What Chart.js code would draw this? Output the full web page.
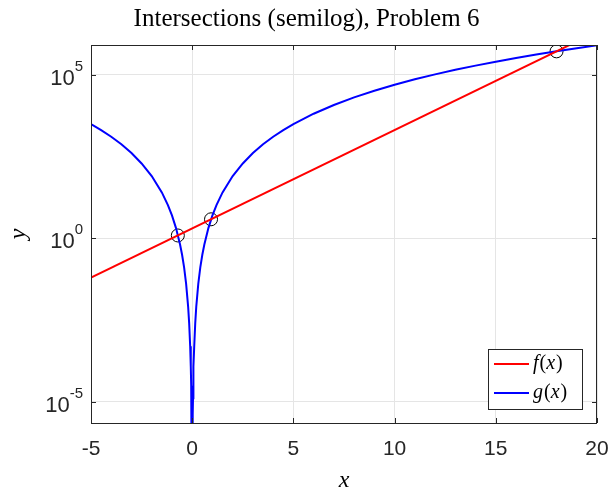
<!DOCTYPE html>
<html>
<head>
<meta charset="utf-8">
<script src="https://cdn.jsdelivr.net/npm/chart.js@4.4.1/dist/chart.umd.min.js"></script>
<style>
  html, body { margin: 0; padding: 0; background: #fff; overflow: hidden; }
  #wrap { width: 613px; height: 495px; position: relative; }
</style>
</head>
<body>
<div id="wrap"><canvas id="chart"></canvas></div>
<script>
// values
const gX = [-5, -4.5, -4, -3.5, -3, -2.5, -2, -1.5, -1.2, -1, -0.8, -0.6, -0.5, -0.4, -0.3, -0.2, -0.15, -0.1, -0.07, -0.05, -0.04, -0.03, -0.02, -0.01,
            0.01, 0.02, 0.03, 0.04, 0.05, 0.07, 0.1, 0.15, 0.2, 0.3, 0.4, 0.5, 0.6, 0.8, 1, 1.2, 1.5, 2, 2.5, 3, 3.5, 4, 4.5, 5,
            6, 7, 8, 9, 10, 11, 12, 13, 14, 15, 16, 17, 18, 19, 20];
const gY = [3125, 2050, 1280, 750, 405, 195, 80, 25.3, 10.4, 5, 2.05, 0.648, 0.3125, 0.128, 0.0405, 0.008, 0.00253, 5e-4, 1.2e-4, 3.1e-5, 1.28e-5, 4e-6, 8e-7, 5e-8,
            5e-8, 8e-7, 4e-6, 1.28e-5, 3.1e-5, 1.2e-4, 5e-4, 0.00253, 0.008, 0.0405, 0.128, 0.3125, 0.648, 2.05, 5, 10.4, 25.3, 80, 195, 405, 750, 1280, 2050, 3125,
            6480, 12000, 20480, 32800, 50000, 73200, 103700, 142800, 192000, 253000, 328000, 418000, 525000, 652000, 800000];
const fX = [-5, 20];
const fY = [0.0625, 2097152];
const hitX = [-0.71, 0.93, 18.0];
const hitY = [1.22, 3.81, 524500];
const xTicks = [-5, 0, 5, 10, 15, 20];
const yTicks = [1e-5, 1, 1e5];
const yTickExponents = ['-5', '0', '5'];
const seriesNames = ['f(x)', 'g(x)'];
const seriesColors = ['#ff0000', '#0000ff'];
const titleText = 'Intersections (semilog), Problem 6';

const serif = "'Liberation Serif', 'DejaVu Serif', serif";
const sans = "'Liberation Sans', Arial, sans-serif";
const axisColor = '#262626';

// italic letters, upright punctuation (like LaTeX math)
function drawMath(ctx, text, x, y, size) {
  for (const ch of text) {
    const italic = /[a-z]/i.test(ch);
    ctx.font = (italic ? 'italic ' : '') + size + 'px ' + serif;
    ctx.fillText(ch, x, y);
    x += ctx.measureText(ch).width + (italic ? 1 : 0);
  }
}

const frame = {
  id: 'frame',
  afterDatasetsDraw(chart) {
    const { ctx, chartArea: a, scales } = chart;
    ctx.save();
    ctx.strokeStyle = axisColor;
    ctx.lineWidth = 1;
    ctx.strokeRect(Math.round(a.left) + 0.5, Math.round(a.top) + 0.5,
                   Math.round(a.right - a.left) - 1, Math.round(a.bottom - a.top));
    ctx.beginPath();
    xTicks.forEach(v => {
      const px = Math.round(scales.x.getPixelForValue(v)) + 0.5;
      ctx.moveTo(px, a.bottom); ctx.lineTo(px, a.bottom - 5);
      ctx.moveTo(px, a.top); ctx.lineTo(px, a.top + 5);
    });
    yTicks.forEach(v => {
      const py = Math.round(scales.y.getPixelForValue(v)) + 0.5;
      ctx.moveTo(a.left, py); ctx.lineTo(a.left + 5, py);
      ctx.moveTo(a.right, py); ctx.lineTo(a.right - 5, py);
    });
    ctx.stroke();

    // y tick labels as 10 with a raised exponent
    ctx.fillStyle = axisColor;
    ctx.textAlign = 'right';
    ctx.textBaseline = 'middle';
    yTicks.forEach((v, i) => {
      const py = scales.y.getPixelForValue(v);
      ctx.font = '15px ' + sans;
      const ex = yTickExponents[i];
      const ew = ctx.measureText(ex).width;
      const right = a.left - 8;
      ctx.fillText(ex, right, py - 8);
      ctx.font = '22px ' + sans;
      ctx.fillText('10', right - ew, py + 4);
    });
    ctx.textAlign = 'left';

    // legend box, bottom right
    const bx = 488, by = 349, bw = 94, bh = 60;
    ctx.fillStyle = '#fff';
    ctx.fillRect(bx, by, bw, bh);
    ctx.strokeStyle = axisColor;
    ctx.strokeRect(bx + 0.5, by + 0.5, bw, bh);
    seriesNames.forEach((name, i) => {
      const ly = by + 15 + i * 29;
      ctx.strokeStyle = seriesColors[i];
      ctx.lineWidth = 2;
      ctx.beginPath();
      ctx.moveTo(bx + 6, ly); ctx.lineTo(bx + 41, ly);
      ctx.stroke();
      ctx.fillStyle = '#000';
      ctx.textBaseline = 'middle';
      drawMath(ctx, name, bx + 45, ly, 20);
    });
    ctx.restore();
  }
};

new Chart(document.getElementById('chart'), {
  type: 'scatter',
  data: {
    datasets: [
      {
        label: seriesNames[0],
        data: fX.map((x, i) => ({ x, y: fY[i] })),
        showLine: true, borderColor: seriesColors[0], borderWidth: 2, pointRadius: 0
      },
      {
        label: seriesNames[1],
        data: gX.map((x, i) => ({ x, y: gY[i] })),
        showLine: true, borderColor: seriesColors[1], borderWidth: 2, pointRadius: 0
      },
      {
        label: 'intersections',
        data: hitX.map((x, i) => ({ x, y: hitY[i] })),
        showLine: false, pointRadius: 6.5, pointBorderWidth: 1,
        pointBorderColor: '#000', pointBackgroundColor: 'rgba(0,0,0,0)'
      }
    ]
  },
  options: {
    responsive: true,
    maintainAspectRatio: false,
    animation: false,
    layout: { padding: 0 },
    plugins: {
      legend: { display: false },
      tooltip: { enabled: false },
      title: {
        display: true,
        text: titleText,
        color: '#000',
        font: { family: serif, size: 25, weight: 'normal' },
        padding: { top: 4, bottom: 11 }
      }
    },
    scales: {
      x: {
        type: 'linear',
        min: -5, max: 20,
        afterBuildTicks: s => { s.ticks = xTicks.map(v => ({ value: v })); },
        afterFit: s => { s.height = 72; s.paddingLeft = 0; s.paddingRight = 16; },
        grid: { color: '#e5e5e5', drawTicks: false },
        border: { display: false },
        ticks: { color: axisColor, padding: 14, font: { family: sans, size: 21 } },
        title: { display: true, text: 'x', color: '#000', padding: 0,
                 font: { family: serif, size: 24, style: 'italic' } }
      },
      y: {
        type: 'logarithmic',
        min: 2.23e-6, max: 8.2e5,
        afterBuildTicks: s => { s.ticks = yTicks.map(v => ({ value: v })); },
        afterFit: s => { s.width = 91; },
        grid: { color: '#e5e5e5', drawTicks: false },
        border: { display: false },
        ticks: { display: false },
        title: { display: true, text: 'y', color: '#000', padding: { top: 4, bottom: 0 },
                 font: { family: serif, size: 24, style: 'italic' } }
      }
    }
  },
  plugins: [frame]
});
</script>
</body>
</html>
